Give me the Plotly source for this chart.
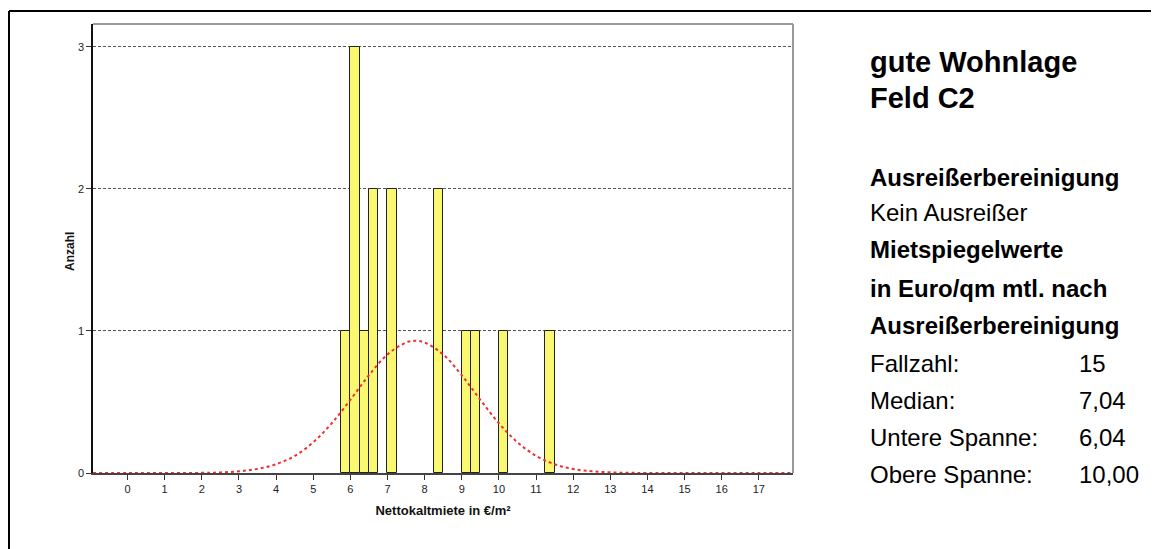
import plotly.graph_objects as go

# ---- data ----
bin_start = [5.75, 6.0, 6.25, 6.5, 7.0, 8.25, 9.0, 9.25, 10.0, 11.25]
counts = [1, 3, 1, 2, 2, 2, 1, 1, 1, 1]
bin_width = 0.25

curve_x = [-0.93, 0, 1, 2, 2.5, 3, 3.5, 4, 4.5, 5, 5.5, 6, 6.5, 7, 7.5, 7.75,
           8, 8.5, 9, 9.5, 10, 10.5, 11, 11.5, 12, 12.5, 13, 13.5, 14, 15, 16, 17, 17.92]
curve_y = [0, 0, 0, 0.001, 0.004, 0.012, 0.029, 0.062, 0.12, 0.216, 0.35, 0.515, 0.688,
           0.834, 0.918, 0.93, 0.918, 0.834, 0.688, 0.515, 0.35, 0.216, 0.121, 0.062,
           0.028, 0.012, 0.0045, 0.0015, 0.0004, 0, 0, 0, 0]

x_ticks = list(range(0, 18))
y_ticks = [0, 1, 2, 3]

title_lines = ["gute Wohnlage", "Feld C2"]
panel_lines = [("Ausreißerbereinigung", True), ("Kein Ausreißer", False),
               ("Mietspiegelwerte", True), ("in Euro/qm mtl. nach", True),
               ("Ausreißerbereinigung", True)]
stat_labels = ["Fallzahl:", "Median:", "Untere Spanne:", "Obere Spanne:"]
stat_values = ["15", "7,04", "6,04", "10,00"]

# ---- layout constants (page pixels; page body has an 8px margin) ----
OFF = 8
W, H = 1159 - OFF, 549 - OFF
L, R, T, B = 93 - OFF, 793 - OFF, 24 - OFF, 473 - OFF
narrow = "Liberation Sans Narrow, Arial Narrow, Arial, sans-serif"
sans = "Arial, Liberation Sans, sans-serif"

def px(xp):
    return (xp - OFF - L) / (R - L)

def py(yp):
    return (B - (yp - OFF)) / (B - T)

fig = go.Figure()
fig.add_trace(go.Bar(
    x=bin_start, y=counts, width=bin_width, offset=0,
    marker=dict(color="#FAF870", line=dict(color="#222222", width=1)),
    hoverinfo="skip", showlegend=False))
fig.add_trace(go.Scatter(
    x=curve_x, y=curve_y, mode="lines", line_shape="spline",
    line=dict(color="#F03030", width=2, dash="dot"),
    hoverinfo="skip", showlegend=False))

fig.update_layout(
    width=W, height=H,
    margin=dict(l=L, r=W - R, t=T, b=H - B, pad=0),
    paper_bgcolor="white", plot_bgcolor="white",
    bargap=0,
    xaxis=dict(range=[-0.93, 17.92], tickvals=x_ticks, ticktext=[str(v) for v in x_ticks],
               ticks="outside", ticklen=5, tickcolor="#333", showgrid=False, zeroline=False,
               showline=True, linecolor="#444", linewidth=1.5,
               tickfont=dict(family=narrow, size=11, color="#222"),
               title=dict(text="<b>Nettokaltmiete in €/m²</b>", standoff=12,
                          font=dict(family=narrow, size=13, color="#111"))),
    yaxis=dict(range=[0, 3.16], tickvals=y_ticks, ticks="outside", ticklen=5, tickcolor="#333",
               showgrid=True, gridcolor="#555", gridwidth=1, griddash="3px,2px",
               zeroline=False, showline=True, linecolor="#111", linewidth=1.5,
               tickfont=dict(family=narrow, size=11, color="#222")),
)

# y axis title
fig.add_annotation(xref="paper", yref="paper", x=px(70), y=py(252), xanchor="center",
                   yanchor="middle", text="<b>Anzahl</b>", textangle=-90, showarrow=False,
                   font=dict(family=sans, size=12, color="#111"))

# plot frame (top/right gray)
fig.add_shape(type="line", xref="paper", yref="paper", x0=0, x1=1, y0=1, y1=1,
              line=dict(color="#999", width=2))
fig.add_shape(type="line", xref="paper", yref="paper", x0=1, x1=1, y0=0, y1=1,
              line=dict(color="#999", width=2))
# outer frame (top/left black, rest cropped)
fig.add_shape(type="line", xref="paper", yref="paper", x0=px(9), x1=px(1200), y0=py(11), y1=py(11),
              line=dict(color="black", width=2))
fig.add_shape(type="line", xref="paper", yref="paper", x0=px(9), x1=px(9), y0=py(11), y1=py(600),
              line=dict(color="black", width=2))

TX = 868
VX = 1077
title_y = [62, 98]
for t, yy in zip(title_lines, title_y):
    fig.add_annotation(xref="paper", yref="paper", x=px(TX), y=py(yy), xanchor="left",
                       yanchor="middle", text=f"<b>{t}</b>", showarrow=False,
                       font=dict(family=sans, size=29, color="black"))
panel_y = [177, 213, 250, 288, 325]
for (t, bold), yy in zip(panel_lines, panel_y):
    fig.add_annotation(xref="paper", yref="paper", x=px(TX), y=py(yy), xanchor="left",
                       yanchor="middle", text=f"<b>{t}</b>" if bold else t, showarrow=False,
                       font=dict(family=sans, size=24, color="black"))
stat_y = [363, 400, 437, 475]
for lab, val, yy in zip(stat_labels, stat_values, stat_y):
    fig.add_annotation(xref="paper", yref="paper", x=px(TX), y=py(yy), xanchor="left",
                       yanchor="middle", text=lab, showarrow=False,
                       font=dict(family=sans, size=24, color="black"))
    fig.add_annotation(xref="paper", yref="paper", x=px(VX), y=py(yy), xanchor="left",
                       yanchor="middle", text=val, showarrow=False,
                       font=dict(family=sans, size=24, color="black"))

fig.write_html("out.html")
